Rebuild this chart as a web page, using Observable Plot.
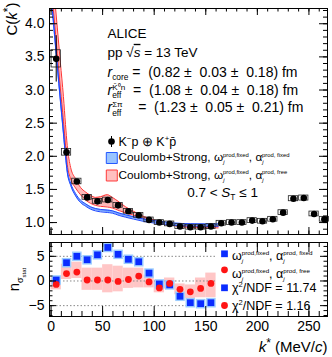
<!DOCTYPE html>
<html><head><meta charset="utf-8">
<script src="https://cdn.jsdelivr.net/npm/d3@7"></script>
<script src="https://cdn.jsdelivr.net/npm/@observablehq/plot@0.6"></script>
<style>
body{margin:0;background:#fff}
#c{width:332px;height:357px;position:relative;overflow:hidden;background:#fff}
#c svg{display:block}
</style>
</head><body><div id="c"></div>
<script>
// ---------- data ----------
const kBins = [5,15,25,35,45,55,65,75,85,95,105,115,125,135,145,155,165,175,185,195,205,215,225,235,245,255,265];
const cData = [3.47,2.06,1.62,1.38,1.32,1.34,1.26,1.17,1.11,1.04,1.00,0.98,0.94,0.93,0.93,0.94,0.99,1.00,1.00,1.03,1.02,1.05,1.15,1.36,1.37,1.13,1.05];
const cStat = [0.35,0.06,0.03,0.02,0.02,0.02,0.02,0.015,0.015,0.015,0.015,0.015,0.015,0.015,0.015,0.015,0.015,0.015,0.015,0.015,0.015,0.015,0.02,0.02,0.02,0.02,0.02];
const cSys  = [0.13,0.05,0.042,0.036,0.036,0.036,0.036,0.036,0.036,0.036,0.036,0.036,0.036,0.036,0.036,0.036,0.036,0.036,0.036,0.036,0.036,0.036,0.036,0.038,0.038,0.036,0.036];

const modelK = [0.5,4.4,6,9,12,14,15.7,19,23.8,28.6,33.5,38.3,43,48,54.5,59.4,66,72,80,90,103,119,135,150,162];
const blueLo = [4.34,3.64,3.36,2.84,2.34,2.00,1.76,1.562,1.402,1.302,1.247,1.202,1.177,1.162,1.152,1.142,1.107,1.082,1.052,1.017,0.987,0.957,0.947,0.944,0.944];
const blueHi = [4.38,3.68,3.40,2.88,2.38,2.04,1.80,1.598,1.438,1.338,1.283,1.238,1.213,1.198,1.188,1.178,1.143,1.118,1.088,1.053,1.023,0.993,0.983,0.980,0.980];
const redLo  = [4.50,3.84,3.55,3.03,2.53,2.17,1.88,1.66,1.52,1.42,1.34,1.29,1.26,1.245,1.235,1.22,1.18,1.15,1.11,1.06,1.00,0.955,0.925,0.92,0.92];
const redHi  = [4.90,4.23,3.95,3.42,2.90,2.48,2.16,1.83,1.66,1.53,1.46,1.41,1.38,1.39,1.42,1.38,1.31,1.24,1.17,1.09,1.025,0.975,0.945,0.94,0.94];

const nK     = [5,15,25,35,45,55,65,75,85,95,105,115,125,135,145,155];
const nBlue  = [0.2,3.7,5.0,4.3,5.3,6.8,5.4,4.4,3.9,1.6,-0.6,-0.8,-3.1,-4.4,-4.6,-4.4];
const nRed   = [-0.7,1.5,1.8,0.2,0.2,0.2,-0.1,0.3,1.0,-0.2,-1.4,-0.5,-1.7,-2.2,-1.5,-0.5];
const nRedLo = [-1.8,0.3,0.5,-1.9,-1.9,-2.4,-2.2,-1.5,-1.4,-1.4,-2.4,-1.6,-2.8,-3.6,-3.4,-3.4];
const nRedHi = [0.6,3.4,3.8,2.6,2.6,3.3,3.0,2.6,2.6,1.2,0.0,0.6,-0.6,-0.8,0.6,1.6];

const xMajor = [0,50,100,150,200,250];
const cMajor = [1.0,1.5,2.0,2.5,3.0,3.5,4.0];
const nMajor = [-5,0,5];
const nRef = [-5,0,5];

// ---------- tables ----------
const cRows = kBins.map((k,i)=>({k, c:cData[i], stat:cStat[i], sys:cSys[i]}));
const mRows = modelK.map((k,i)=>({k, bl:blueLo[i], bh:blueHi[i], rl:redLo[i], rh:redHi[i]}));
const nRows = nK.map((k,i)=>({k, b:nBlue[i], r:nRed[i], lo:nRedLo[i], hi:nRedHi[i]}));

// ---------- rich text ----------
const RICH = {};
function R(key, fs, segs){ RICH[key] = {fs, segs}; return "@"+key; }
function build(el, {fs, segs}){
  el.textContent = "";
  let cur = 0;
  for (const s of segs){
    const ts = document.createElementNS("http://www.w3.org/2000/svg","tspan");
    const sc = s.scale || (s.sup||s.sub ? 0.62 : 1);
    let target = 0;
    if (s.sup) target = -fs*(s.sup===2?0.62:0.38);
    if (s.sub) target = fs*(s.sub===2?0.42:0.24);
    const d = target-cur; cur = target;
    if (d) ts.setAttribute("dy", d.toFixed(2));
    if (s.dx) ts.setAttribute("dx", s.dx);
    if (sc!==1) ts.setAttribute("font-size", (fs*sc).toFixed(2));
    if (s.it) ts.setAttribute("font-style","italic");
    if (s.over) ts.setAttribute("text-decoration","overline");
    ts.textContent = s.t;
    el.appendChild(ts);
  }
}
function enrich(svg){
  svg.querySelectorAll("text").forEach(el=>{
    const s = el.textContent;
    if (s.startsWith("@") && RICH[s.slice(1)]) build(el, RICH[s.slice(1)]);
  });
}

const FONT = '"Liberation Sans", Arial, Helvetica, sans-serif';
const X_DOMAIN = [-1.5, 268];
const W = 332;
const ML = 49, MR = 5;
const innerW = W-ML-MR;
const NB = "\u00a0";

function T(key, fs, segs, o){
  return Plot.text([R(key, fs, segs)], {text:d=>d, frameAnchor:o.anchor||"top-left", dx:o.dx, dy:o.dy,
    textAnchor:o.ta||"start", lineAnchor:"middle", fontSize:fs, rotate:o.rotate||0, fill:"black"});
}
function frameTicks(innerH, xMinLen, xMajLen, yMinor, yMajor, yMinLen, yMajLen){
  const xMinor = d3.range(0, 261, 10);
  return [
    Plot.tickX(xMinor, {x:d=>d, insetTop:innerH-xMinLen, stroke:"black"}),
    Plot.tickX(xMajor, {x:d=>d, insetTop:innerH-xMajLen, stroke:"black"}),
    Plot.tickX(xMinor, {x:d=>d, insetBottom:innerH-xMinLen, stroke:"black"}),
    Plot.tickX(xMajor, {x:d=>d, insetBottom:innerH-xMajLen, stroke:"black"}),
    Plot.tickY(yMinor, {y:d=>d, insetRight:innerW-yMinLen, stroke:"black"}),
    Plot.tickY(yMajor, {y:d=>d, insetRight:innerW-yMajLen, stroke:"black"}),
    Plot.tickY(yMinor, {y:d=>d, insetLeft:innerW-yMinLen, stroke:"black"}),
    Plot.tickY(yMajor, {y:d=>d, insetLeft:innerW-yMajLen, stroke:"black"})
  ];
}
const errSym = {draw(ctx){ ctx.moveTo(0,-5.5); ctx.lineTo(0,5.5); }};
const legSeg = (last) => [{t:"ω"},{t:"j",sub:1,it:1,scale:0.5},{t:"prod,fixed",sup:1,dx:-1.5,scale:0.5},{t:", α"},{t:"j",sub:1,it:1,scale:0.5},{t:last,sup:1,dx:-1.5,scale:0.5}];

// ---------- top panel ----------
const topH = 237, topMT = 8, topMB = 3;
const cMinor = d3.range(9, 43, 1).map(v=>v/10);
const topPlot = Plot.plot({
  width: W, height: topH, marginLeft: ML, marginRight: MR, marginTop: topMT, marginBottom: topMB,
  x: {domain: X_DOMAIN, axis: null},
  y: {domain: [0.82, 4.23]},
  style: {fontFamily: FONT, background: "white", color: "black"},
  marks: [
    Plot.areaY(mRows, {x:"k", y1:"rl", y2:"rh", fill:"#ffb8b8", clip:true, curve:"monotone-x"}),
    Plot.lineY(mRows, {x:"k", y:"rh", stroke:"#ff3333", strokeWidth:1, clip:true, curve:"monotone-x"}),
    Plot.lineY(mRows, {x:"k", y:"rl", stroke:"#ff3333", strokeWidth:1, clip:true, curve:"monotone-x"}),
    Plot.areaY(mRows, {x:"k", y1:"bl", y2:"bh", fill:"#7aa9ff", clip:true, curve:"monotone-x"}),
    Plot.lineY(mRows, {x:"k", y:"bh", stroke:"#1f48ff", strokeWidth:1, clip:true, curve:"monotone-x"}),
    Plot.lineY(mRows, {x:"k", y:"bl", stroke:"#1f48ff", strokeWidth:1, clip:true, curve:"monotone-x"}),
    Plot.rect(cRows, {x1:d=>d.k-4.5, x2:d=>d.k+4.5, y1:d=>d.c-d.sys, y2:d=>d.c+d.sys, fill:"none", stroke:"#222", strokeWidth:0.8}),
    Plot.ruleX(cRows, {x:"k", y1:d=>d.c-d.stat, y2:d=>d.c+d.stat, stroke:"black", strokeWidth:1, clip:true}),
    Plot.dot(cRows, {x:"k", y:"c", r:3.3, fill:"black"}),
    Plot.axisY({ticks:cMajor, tickFormat:d3.format(".1f"), tickSize:0, tickPadding:5, fontSize:14, label:null}),
    ...frameTicks(topH-topMT-topMB, 3.5, 7, cMinor, cMajor, 4, 8),
    Plot.frame({stroke:"black"}),
    T("ylab", 15, [{t:"C("},{t:"k",it:1},{t:"*",sup:1,scale:0.8},{t:")"}], {dx:-37, dy:-6, ta:"end", rotate:-90}),
    T("alice", 13.5, [{t:"ALICE"}], {dx:58, dy:24.7}),
    T("pp", 13.5, [{t:"pp "},{t:"√"},{t:"s",it:1,over:1},{t:" = 13 TeV"}], {dx:58, dy:44}),
    T("rc", 14, [{t:"r",it:1},{t:"core",sub:1,scale:0.6},{t:" ="+NB+" (0.82 ±"+NB+" 0.03 ±"+NB+" 0.18) fm"}], {dx:58, dy:64}),
    T("rk", 14, [{t:"r",it:1},{t:"eff",sub:1,scale:0.6},{t:"K\u0304\u2070n",sup:1,dx:-9,scale:0.58},{t:NB+" ="+NB+" (1.08 ±"+NB+" 0.04 ±"+NB+" 0.18) fm"}], {dx:58, dy:82}),
    T("rs", 14, [{t:"r",it:1},{t:"eff",sub:1,scale:0.6},{t:"Σπ",sup:1,dx:-9,scale:0.58},{t:NB+NB+NB+" ="+NB+" (1.23 ±"+NB+" 0.05 ±"+NB+" 0.21) fm"}], {dx:58, dy:99.5}),
    Plot.dot([0], {frameAnchor:"top-left", dx:62, dy:133, symbol:errSym, stroke:"black", strokeWidth:1, r:3}),
    Plot.dot([0], {frameAnchor:"top-left", dx:62, dy:133, r:3.3, fill:"black"}),
    T("kp", 12.5, [{t:"K"},{t:"−",sup:1},{t:"p ⊕ K"},{t:"+",sup:1},{t:"p\u0304"}], {dx:69, dy:133}),
    Plot.dot([0], {frameAnchor:"top-left", dx:62.3, dy:149.5, symbol:"square", r:6.2, fill:"#99c4ff", stroke:"#2458ff", strokeWidth:1}),
    Plot.dot([0], {frameAnchor:"top-left", dx:62.3, dy:167, symbol:"square", r:6.2, fill:"#ffc0c0", stroke:"#ff3b3b", strokeWidth:1}),
    T("l1", 11.8, [{t:"Coulomb+Strong, "}, ...legSeg("prod, fixed")], {dx:69, dy:149}),
    T("l2", 11.8, [{t:"Coulomb+Strong, "}, ...legSeg("prod, free")], {dx:69, dy:166.5}),
    T("st", 13.5, [{t:"0.7 < "},{t:"S",it:1},{t:"T",sub:1},{t:" ≤ 1"}], {dx:137.7, dy:184})
  ]
});

// ---------- bottom panel ----------
const botH = 120, botMT = 5, botMB = 41;
const nMinor = d3.range(-7, 8, 1);
const botPlot = Plot.plot({
  width: W, height: botH, marginLeft: ML, marginRight: MR, marginTop: botMT, marginBottom: botMB,
  x: {domain: X_DOMAIN},
  y: {domain: [-7.2, 7.8]},
  style: {fontFamily: FONT, background: "white", color: "black", overflow: "visible"},
  marks: [
    Plot.rect(nRows, {x1:d=>d.k-5, x2:d=>d.k+5, y1:"lo", y2:"hi", fill:"#ffc6c6"}),
    Plot.ruleY(nRef, {y:d=>d, stroke:"#888", strokeDasharray:"1.5,2", strokeWidth:1, insetRight:110}),
    Plot.dot(nRows, {x:"k", y:"b", symbol:"square", r:5.4, fill:"#9ccdff"}),
    Plot.dot(nRows, {x:"k", y:"b", symbol:"square", r:3.8, fill:"#0a2cff"}),
    Plot.dot(nRows, {x:"k", y:"r", r:3.4, fill:"#ff1414"}),
    Plot.axisY({ticks:nMajor, tickSize:0, tickPadding:5, fontSize:14, label:null}),
    Plot.axisX({ticks:xMajor, tickSize:0, tickPadding:5, fontSize:14, label:null}),
    ...frameTicks(botH-botMT-botMB, 5, 10, nMinor, nMajor, 3.5, 7),
    Plot.frame({stroke:"black"}),
    T("nlab", 15, [{t:"n"},{t:"σ",sub:1,scale:0.6},{t:"stat",sub:2,scale:0.4}], {anchor:"left", dx:-35, dy:0, ta:"middle", rotate:-90}),
    T("xlab", 15, [{t:"k",it:1},{t:"*",sup:1,scale:0.8},{t:" (MeV/"},{t:"c",it:1},{t:")"}], {anchor:"bottom-right", dx:0, dy:31, ta:"end"}),
    Plot.dot([0], {frameAnchor:"top-left", dx:175, dy:11.3, symbol:"square", r:3.8, fill:"#0a2cff"}),
    Plot.dot([0], {frameAnchor:"top-left", dx:175, dy:27.3, r:3.4, fill:"#ff1414"}),
    Plot.dot([0], {frameAnchor:"top-left", dx:175, dy:45.3, symbol:"square", r:3.8, fill:"#0a2cff"}),
    Plot.dot([0], {frameAnchor:"top-left", dx:175, dy:63, r:3.4, fill:"#ff1414"}),
    T("b1", 12.5, legSeg("prod, fixed"), {dx:182.5, dy:13}),
    T("b2", 12.5, legSeg("prod, free"), {dx:182.5, dy:31}),
    T("b3", 12.5, [{t:"χ"},{t:"2",sup:1,scale:0.6},{t:"/NDF = 11.74"}], {dx:182.5, dy:45.3}),
    T("b4", 12.5, [{t:"χ"},{t:"2",sup:1,scale:0.6},{t:"/NDF = 1.16"}], {dx:182.5, dy:63})
  ]
});

const c = document.getElementById("c");
c.appendChild(topPlot);
c.appendChild(botPlot);
enrich(topPlot); enrich(botPlot);
</script>
</body></html>
